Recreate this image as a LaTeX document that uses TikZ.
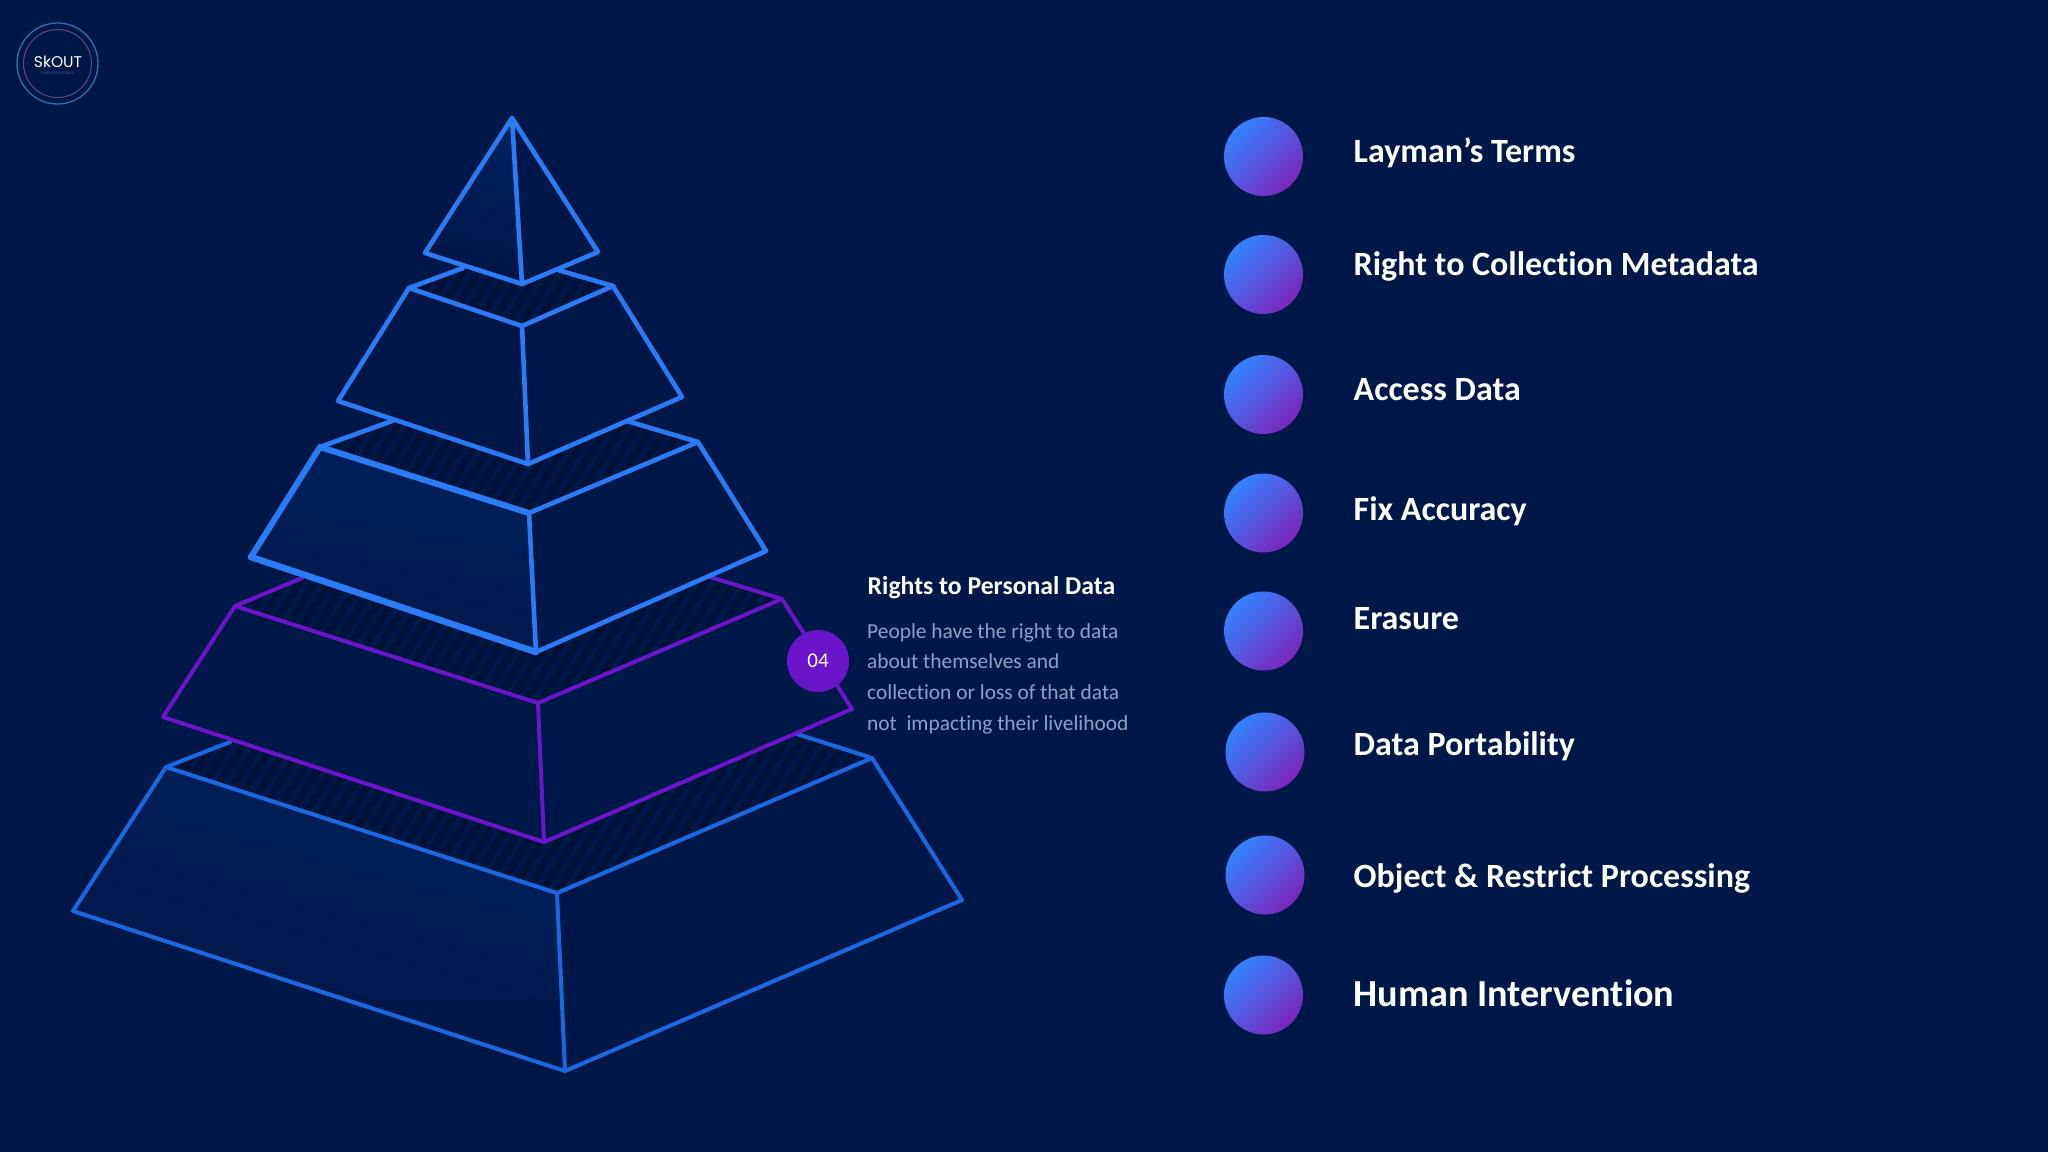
\documentclass[tikz,border=0pt]{standalone}
\usepackage{fontspec}
\setmainfont[Ligatures=NoCommon]{Carlito}
\newfontfamily\logofont{Poppins}
\usetikzlibrary{calc}
\definecolor{bg}{HTML}{00174A}
\definecolor{faceglow}{HTML}{002361}
\definecolor{hatchA}{HTML}{00184A}
\definecolor{hatchB}{HTML}{001238}
\definecolor{lineblue}{HTML}{2B7BF5}
\definecolor{lineblueb}{HTML}{1A68E0}
\definecolor{linepurple}{HTML}{6A15C8}
\definecolor{bodytext}{HTML}{8CA1CA}
\definecolor{dotA}{HTML}{3284FF}
\definecolor{dotB}{HTML}{7A26BA}
\definecolor{logoblue}{HTML}{2F6FAE}
\definecolor{logoviolet}{HTML}{5E4A80}
\tikzset{
  edge/.style={line join=round,line cap=round,line width=#1},
  edge/.default=4.6pt,
  dot/.style={circle,minimum size=79pt,inner sep=0pt,top color=dotA,bottom color=dotB,shading angle=45},
  title/.style={anchor=base west,inner sep=0pt,text=white,font=\bfseries},
  itemtext/.style={title,font=\bfseries\fontsize{#1}{42}\selectfont},
  itemtext/.default=34,
  bodyline/.style={anchor=base west,inner sep=0pt,text=bodytext,font=\fontsize{21.4}{25}\selectfont},
}
\newcommand{\hatchband}[1]{%
  \begin{scope}
    \clip #1;
    \fill[hatchA] (0,0) rectangle (1100,1152);
    \foreach \k in {0,...,130}{
      \fill[hatchB] ({-300+\k*15},1152) -- ({-292+\k*15},1152) -- ({-292+\k*15+720},0) -- ({-300+\k*15+720},0) -- cycle;
    }
  \end{scope}}
\begin{document}
\begin{tikzpicture}[x=1pt,y=-1pt]
\useasboundingbox (0,0) rectangle (2048,1152);
\fill[bg] (0,0) rectangle (2048,1152);

% logo
\node[circle,draw=logoblue,line width=1.3pt,minimum size=81pt,inner sep=0pt] (logoouter) at (57.5,63.5) {};
\node[circle,draw=logoviolet,line width=1pt,minimum size=68pt,inner sep=0pt] (logoinner) at (57.5,63.5) {};
\node[inner sep=0pt,text=white,font=\logofont\fontsize{15.5}{16}\selectfont] (logotext) at (58,62) {SkOUT};
\node[inner sep=0pt,text=bodytext!50!bg,font=\fontsize{4}{4}\selectfont] (logosub) at (57.5,73) {CYBER INTELLIGENCE};

% coordinates: tier 1 (base)
\coordinate (a1) at (166,767); \coordinate (a2) at (557,893); \coordinate (a3) at (872,758);
\coordinate (a4) at (962,900); \coordinate (a5) at (565,1071); \coordinate (a6) at (73,911);
\coordinate (ab1) at (230,742); \coordinate (ab2) at (797,734);
% tier 2 (purple)
\coordinate (b1) at (235,606); \coordinate (b2) at (538,703); \coordinate (b3) at (782,599);
\coordinate (b4) at (852,709); \coordinate (b5) at (544,842); \coordinate (b6) at (163,717);
\coordinate (bb1) at (302,578); \coordinate (bb2) at (710,577);
% tier 3
\coordinate (c1) at (320,447); \coordinate (c2) at (529,513); \coordinate (c3) at (698,442);
\coordinate (c4) at (766,551); \coordinate (c5) at (536,652); \coordinate (c6) at (251,557);
\coordinate (cb1) at (392,421); \coordinate (cb2) at (627,421);
% tier 4
\coordinate (d1) at (409,288); \coordinate (d2) at (522,326); \coordinate (d3) at (613,286);
\coordinate (d4) at (682,397); \coordinate (d5) at (528,464); \coordinate (d6) at (338,401);
\coordinate (db1) at (463,268); \coordinate (db2) at (558,270);
% apex
\coordinate (e0) at (512,118); \coordinate (e1) at (425,253); \coordinate (e2) at (522,284); \coordinate (e3) at (598,252);

% hatched bands between tiers
\hatchband{(a1) -- (ab1) -- (b5) -- (ab2) -- (a3) -- (a2) -- cycle}
\hatchband{(b1) -- (bb1) -- (c5) -- (bb2) -- (b3) -- (b2) -- cycle}
\hatchband{(c1) -- (cb1) -- (d5) -- (cb2) -- (c3) -- (c2) -- cycle}
\hatchband{(d1) -- (db1) -- (e2) -- (db2) -- (d3) -- (d2) -- cycle}

% tier 1
\fill[bg] (a1) -- (a2) -- (a3) -- (a4) -- (a5) -- (a6) -- cycle;
\begin{scope}
  \clip (a1) -- (a2) -- (a5) -- (a6) -- cycle;
  \shade[top color=faceglow,bottom color=bg,shading angle=-15] (60,740) rectangle (570,1000);
\end{scope}
\draw[edge=4pt,lineblueb] (a1) -- (a2) -- (a3) -- (a4) -- (a5) -- (a6) -- cycle;
\draw[edge=4pt,lineblueb] (a2) -- (a5);
\draw[edge=4pt,lineblueb] (a1) -- (ab1);
\draw[edge=4pt,lineblueb] (a3) -- (ab2);

% tier 2
\fill[bg] (b1) -- (b2) -- (b3) -- (b4) -- (b5) -- (b6) -- cycle;
\draw[edge=4pt,linepurple] (b1) -- (b2) -- (b3) -- (b4) -- (b5) -- (b6) -- cycle;
\draw[edge=4pt,linepurple] (b2) -- (b5);
\draw[edge=4pt,linepurple] (b1) -- (bb1);
\draw[edge=4pt,linepurple] (b3) -- (bb2);

% tier 3
\fill[bg] (c1) -- (c2) -- (c3) -- (c4) -- (c5) -- (c6) -- cycle;
\begin{scope}
  \clip (c1) -- (c2) -- (c5) -- (c6) -- cycle;
  \shade[top color=faceglow,bottom color=bg,shading angle=-10] (245,420) rectangle (540,655);
\end{scope}
\draw[edge,lineblue] (c2) -- (c3) -- (c4) -- (c5);
\draw[edge,lineblue] (c2) -- (c5);
\draw[edge,lineblue] (c1) -- (cb1);
\draw[edge,lineblue] (c3) -- (cb2);
\draw[edge=6pt,lineblue] (c6) -- (c1) -- (c2);
\draw[edge=6.5pt,lineblue] (c6) -- (c5);

% tier 4
\fill[bg] (d1) -- (d2) -- (d3) -- (d4) -- (d5) -- (d6) -- cycle;
\draw[edge,lineblue] (d1) -- (d2) -- (d3) -- (d4) -- (d5) -- (d6) -- cycle;
\draw[edge,lineblue] (d2) -- (d5);
\draw[edge,lineblue] (d1) -- (db1);
\draw[edge,lineblue] (d3) -- (db2);

% apex
\fill[bg] (e0) -- (e1) -- (e2) -- (e3) -- cycle;
\begin{scope}
  \clip (e0) -- (e1) -- (e2) -- cycle;
  \shade[top color=faceglow,bottom color=bg,shading angle=-15] (420,115) rectangle (525,260);
\end{scope}
\draw[edge,lineblue] (e0) -- (e1) -- (e2) -- (e3) -- cycle;
\draw[edge,lineblue] (e0) -- (e2);

% callout
\node[circle,fill=linepurple,minimum size=62pt,inner sep=0pt,text=white,font=\fontsize{21}{21}\selectfont] (badge) at (818,661) {04};
\node[title,font=\bfseries\fontsize{25.7}{30}\selectfont] (rights) at (867.5,594) {Rights to Personal Data};
\node[bodyline] (body1) at (867,638) {People have the right to data};
\node[bodyline] (body2) at (867,668) {about themselves and};
\node[bodyline] (body3) at (867,699.5) {collection or loss of that data};
\node[bodyline] (body4) at (867,730) {not\ \ impacting their livelihood};

% list
\foreach \n/\x/\y in {1/1263.5/156.5,2/1263.5/274.5,3/1263.5/394.5,4/1263.5/513,5/1263.5/631,6/1265/752,7/1265/875,8/1263.5/995}{
  \node[dot] (dot\n) at (\x,\y) {};
}
\node[itemtext] (item1) at (1353.5,162) {Layman’s Terms};
\node[itemtext] (item2) at (1353.5,275) {Right to Collection Metadata};
\node[itemtext] (item3) at (1353.5,400) {Access Data};
\node[itemtext] (item4) at (1353.5,520) {Fix Accuracy};
\node[itemtext] (item5) at (1353.5,629) {Erasure};
\node[itemtext] (item6) at (1353.5,755) {Data Portability};
\node[itemtext] (item7) at (1353.5,887) {Object \& Restrict Processing};
\node[itemtext=38.2] (item8) at (1353.5,1006) {Human Intervention};
\end{tikzpicture}
\end{document}
